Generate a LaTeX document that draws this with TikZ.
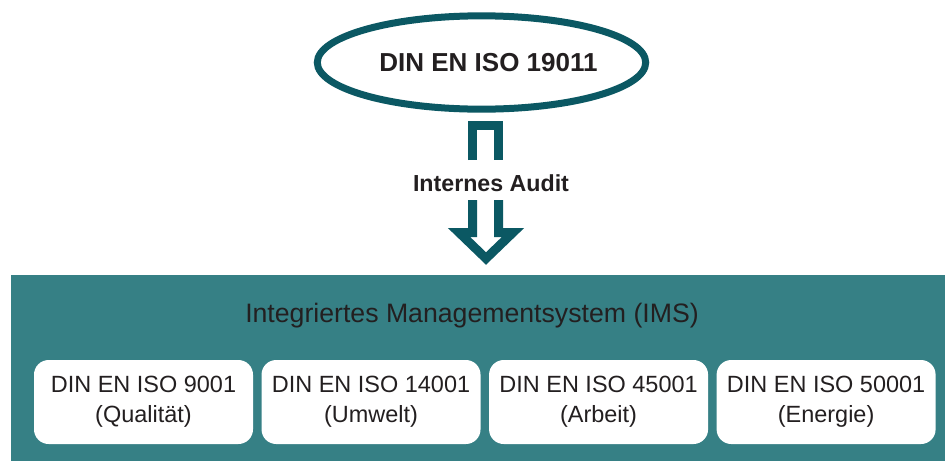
\documentclass[tikz,border=0pt]{standalone}
\usepackage{fontspec}
\setmainfont{Liberation Sans}
\usetikzlibrary{positioning,calc,shapes.geometric}
\definecolor{tealdark}{RGB}{11,88,99}
\definecolor{tealpanel}{RGB}{54,128,133}
\definecolor{inkgray}{RGB}{35,31,32}

\begin{document}
\begin{tikzpicture}[x=0.75pt,y=-0.75pt,text=inkgray,
  font=\fontsize{17.6}{22.5}\selectfont,
  normbox/.style={rectangle,rounded corners=11pt,fill=white,minimum width=164.25pt,
    minimum height=63pt,inner sep=0pt,align=center},
  hollow/.style={draw=tealdark,line width=6.75pt,miter limit=10}]
  \useasboundingbox (0,0) rectangle (945,461);
  % Managementsystem
  \node[fill=tealpanel,minimum width=700.5pt,minimum height=139.5pt,inner sep=0pt] (ims) at (478,368) {};
  \node[font=\fontsize{20}{24}\selectfont] (imstitle) at (472,316) {Integriertes Managementsystem (IMS)};
  \node[normbox] (qual) at (143.5,402) {DIN EN ISO 9001\\(Qualität)};
  \node[normbox,right=6pt of qual] (umwelt) {DIN EN ISO 14001\\(Umwelt)};
  \node[normbox,right=6pt of umwelt] (arbeit) {DIN EN ISO 45001\\(Arbeit)};
  \node[normbox,right=6pt of arbeit] (energie) {DIN EN ISO 50001\\(Energie)};
  % Auditnorm
  \node[ellipse,draw=tealdark,line width=5.25pt,inner sep=0pt,minimum width=246pt,minimum height=70pt,
    font=\bfseries\fontsize{19.5}{24}\selectfont] (audnorm) at (481.5,62.5) {\hspace*{10.5pt}DIN EN ISO 19011};
  \node[font=\bfseries\fontsize{17.4}{20}\selectfont] (audit) at (491,183) {Internes Audit};
  % hohler Pfeil
  \draw[hollow] ($(audit)+(-18.5,-23)$) -- ++(0,-35) -- ++(26,0) -- ++(0,35);
  \draw[hollow] ($(audit)+(-18.5,17)$) -- ++(0,32.5) -- ++(-13.5,0) -- ++(27,26)
    -- ++(27,-26) -- ++(-14.5,0) -- ++(0,-32.5);
\end{tikzpicture}
\end{document}
